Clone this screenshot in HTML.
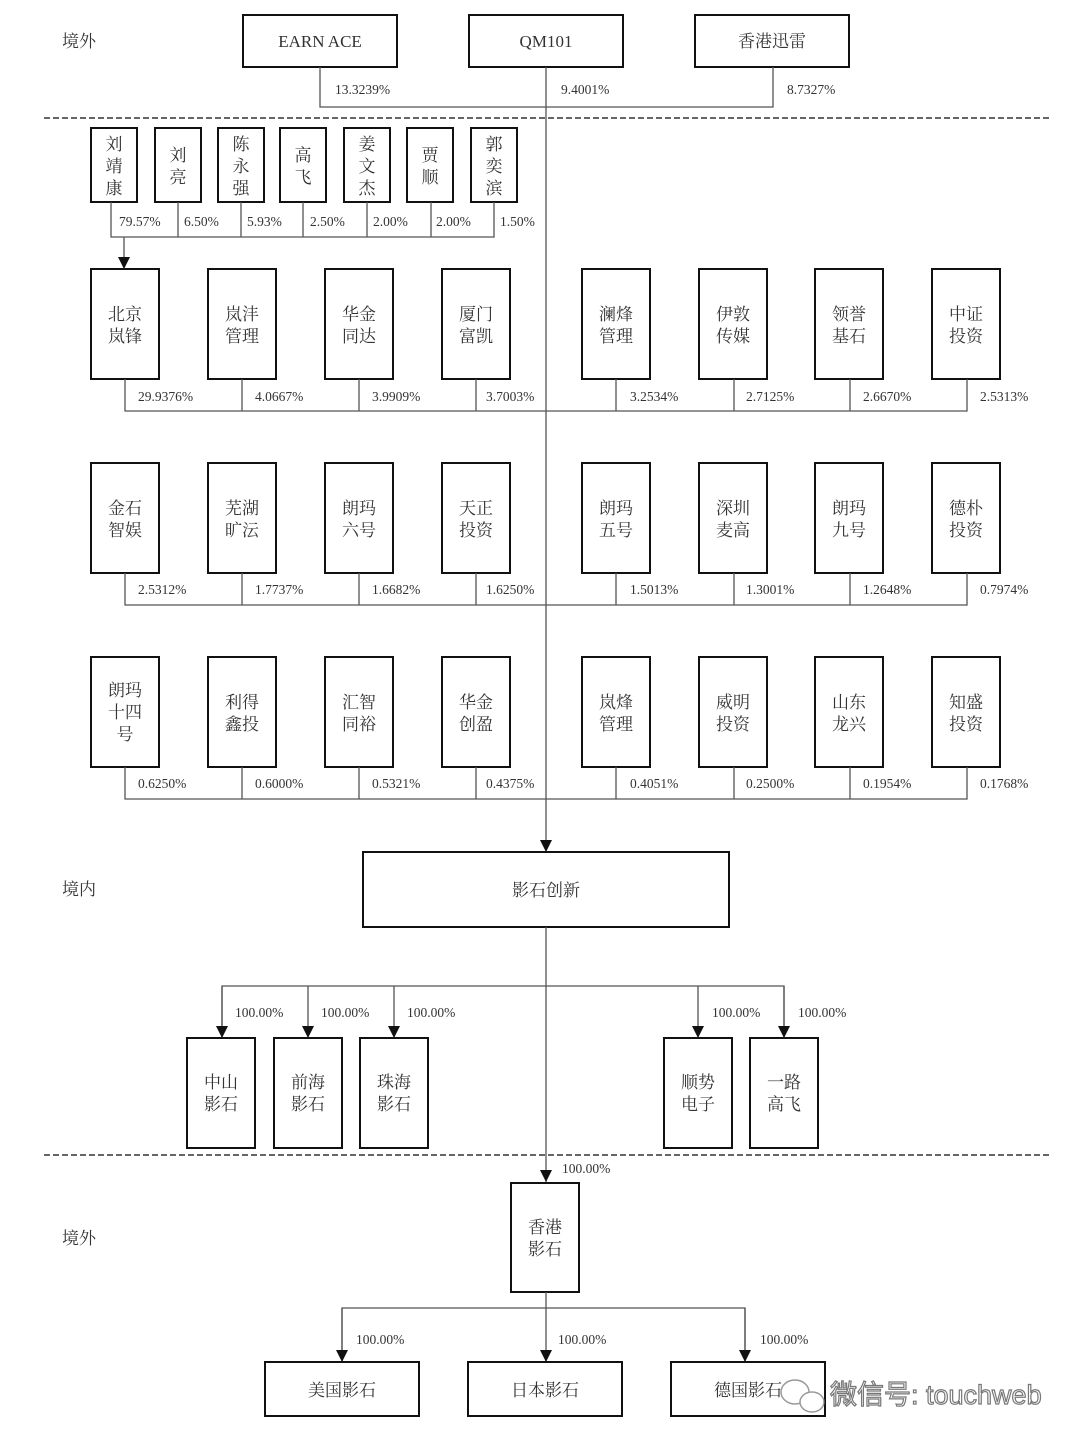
<!DOCTYPE html>
<html><head><meta charset="utf-8"><style>
html,body{margin:0;padding:0;background:#fff;}
svg{display:block;}
text{font-family:"Liberation Serif","Noto Serif CJK SC",serif;fill:#333;}
.b{fill:#fff;stroke:#111;stroke-width:2;}
.l{stroke:#555;stroke-width:1.3;fill:none;}
.t{font-size:17px;text-anchor:middle;}
.p{font-size:13.5px;}
.d{stroke:#333;stroke-width:1.6;stroke-dasharray:6,3;}
</style></head><body>
<svg width="1080" height="1442" viewBox="0 0 1080 1442" xmlns="http://www.w3.org/2000/svg">
<defs><marker id="a" markerWidth="12" markerHeight="12" refX="12" refY="6" orient="auto" markerUnits="userSpaceOnUse"><path d="M0,0 L12,6 L0,12 z" fill="#111"/></marker>
</defs>
<text x="62" y="47" style="font-size:17px">境外</text>
<text x="62" y="895" style="font-size:17px">境内</text>
<text x="62" y="1244" style="font-size:17px">境外</text>

<!-- top -->
<rect class="b" x="243" y="15" width="154" height="52"/><text class="t" x="320" y="47">EARN ACE</text>
<rect class="b" x="469" y="15" width="154" height="52"/><text class="t" x="546" y="47">QM101</text>
<rect class="b" x="695" y="15" width="154" height="52"/><text class="t" x="772" y="47">香港迅雷</text>
<path class="l" d="M320,67 V107 H773 V67"/>
<text class="p" x="335" y="94">13.3239%</text>
<text class="p" x="561" y="94">9.4001%</text>
<text class="p" x="787" y="94">8.7327%</text>
<line class="l" x1="546" y1="67" x2="546" y2="852" marker-end="url(#a)"/>
<line class="d" x1="44" y1="118" x2="1050" y2="118"/>

<!-- persons -->
<g>
<rect class="b" x="91" y="128" width="46" height="74"/><text class="t" x="114" y="150">刘</text><text class="t" x="114" y="172">靖</text><text class="t" x="114" y="194">康</text>
<rect class="b" x="155" y="128" width="46" height="74"/><text class="t" x="178" y="161">刘</text><text class="t" x="178" y="183">亮</text>
<rect class="b" x="218" y="128" width="46" height="74"/><text class="t" x="241" y="150">陈</text><text class="t" x="241" y="172">永</text><text class="t" x="241" y="194">强</text>
<rect class="b" x="280" y="128" width="46" height="74"/><text class="t" x="303" y="161">高</text><text class="t" x="303" y="183">飞</text>
<rect class="b" x="344" y="128" width="46" height="74"/><text class="t" x="367" y="150">姜</text><text class="t" x="367" y="172">文</text><text class="t" x="367" y="194">杰</text>
<rect class="b" x="407" y="128" width="46" height="74"/><text class="t" x="430" y="161">贾</text><text class="t" x="430" y="183">顺</text>
<rect class="b" x="471" y="128" width="46" height="74"/><text class="t" x="494" y="150">郭</text><text class="t" x="494" y="172">奕</text><text class="t" x="494" y="194">滨</text>
</g>
<path class="l" d="M111,202 V237 H494 V202 M178,202 V237 M241,202 V237 M303,202 V237 M367,202 V237 M431,202 V237"/>
<line class="l" x1="124" y1="237" x2="124" y2="269" marker-end="url(#a)"/>
<text class="p" x="119" y="226">79.57%</text><text class="p" x="184" y="226">6.50%</text><text class="p" x="247" y="226">5.93%</text><text class="p" x="310" y="226">2.50%</text><text class="p" x="373" y="226">2.00%</text><text class="p" x="436" y="226">2.00%</text><text class="p" x="500" y="226">1.50%</text>

<!-- row1 -->
<g>
<rect class="b" x="91" y="269" width="68" height="110"/><text class="t" x="125" y="320">北京</text><text class="t" x="125" y="342">岚锋</text>
<rect class="b" x="208" y="269" width="68" height="110"/><text class="t" x="242" y="320">岚沣</text><text class="t" x="242" y="342">管理</text>
<rect class="b" x="325" y="269" width="68" height="110"/><text class="t" x="359" y="320">华金</text><text class="t" x="359" y="342">同达</text>
<rect class="b" x="442" y="269" width="68" height="110"/><text class="t" x="476" y="320">厦门</text><text class="t" x="476" y="342">富凯</text>
<rect class="b" x="582" y="269" width="68" height="110"/><text class="t" x="616" y="320">澜烽</text><text class="t" x="616" y="342">管理</text>
<rect class="b" x="699" y="269" width="68" height="110"/><text class="t" x="733" y="320">伊敦</text><text class="t" x="733" y="342">传媒</text>
<rect class="b" x="815" y="269" width="68" height="110"/><text class="t" x="849" y="320">领誉</text><text class="t" x="849" y="342">基石</text>
<rect class="b" x="932" y="269" width="68" height="110"/><text class="t" x="966" y="320">中证</text><text class="t" x="966" y="342">投资</text>
<path class="l" d="M125,379 V411 H967 V379 M242,379 V411 M359,379 V411 M476,379 V411 M616,379 V411 M734,379 V411 M850,379 V411"/>
<text class="p" x="138" y="401">29.9376%</text><text class="p" x="255" y="401">4.0667%</text><text class="p" x="372" y="401">3.9909%</text><text class="p" x="486" y="401">3.7003%</text><text class="p" x="630" y="401">3.2534%</text><text class="p" x="746" y="401">2.7125%</text><text class="p" x="863" y="401">2.6670%</text><text class="p" x="980" y="401">2.5313%</text>
</g>
<!-- row2 -->
<g>
<rect class="b" x="91" y="463" width="68" height="110"/><text class="t" x="125" y="514">金石</text><text class="t" x="125" y="536">智娱</text>
<rect class="b" x="208" y="463" width="68" height="110"/><text class="t" x="242" y="514">芜湖</text><text class="t" x="242" y="536">旷沄</text>
<rect class="b" x="325" y="463" width="68" height="110"/><text class="t" x="359" y="514">朗玛</text><text class="t" x="359" y="536">六号</text>
<rect class="b" x="442" y="463" width="68" height="110"/><text class="t" x="476" y="514">天正</text><text class="t" x="476" y="536">投资</text>
<rect class="b" x="582" y="463" width="68" height="110"/><text class="t" x="616" y="514">朗玛</text><text class="t" x="616" y="536">五号</text>
<rect class="b" x="699" y="463" width="68" height="110"/><text class="t" x="733" y="514">深圳</text><text class="t" x="733" y="536">麦高</text>
<rect class="b" x="815" y="463" width="68" height="110"/><text class="t" x="849" y="514">朗玛</text><text class="t" x="849" y="536">九号</text>
<rect class="b" x="932" y="463" width="68" height="110"/><text class="t" x="966" y="514">德朴</text><text class="t" x="966" y="536">投资</text>
<path class="l" d="M125,573 V605 H967 V573 M242,573 V605 M359,573 V605 M476,573 V605 M616,573 V605 M734,573 V605 M850,573 V605"/>
<text class="p" x="138" y="594">2.5312%</text><text class="p" x="255" y="594">1.7737%</text><text class="p" x="372" y="594">1.6682%</text><text class="p" x="486" y="594">1.6250%</text><text class="p" x="630" y="594">1.5013%</text><text class="p" x="746" y="594">1.3001%</text><text class="p" x="863" y="594">1.2648%</text><text class="p" x="980" y="594">0.7974%</text>
</g>
<!-- row3 -->
<g>
<rect class="b" x="91" y="657" width="68" height="110"/><text class="t" x="125" y="696">朗玛</text><text class="t" x="125" y="718">十四</text><text class="t" x="125" y="740">号</text>
<rect class="b" x="208" y="657" width="68" height="110"/><text class="t" x="242" y="708">利得</text><text class="t" x="242" y="730">鑫投</text>
<rect class="b" x="325" y="657" width="68" height="110"/><text class="t" x="359" y="708">汇智</text><text class="t" x="359" y="730">同裕</text>
<rect class="b" x="442" y="657" width="68" height="110"/><text class="t" x="476" y="708">华金</text><text class="t" x="476" y="730">创盈</text>
<rect class="b" x="582" y="657" width="68" height="110"/><text class="t" x="616" y="708">岚烽</text><text class="t" x="616" y="730">管理</text>
<rect class="b" x="699" y="657" width="68" height="110"/><text class="t" x="733" y="708">威明</text><text class="t" x="733" y="730">投资</text>
<rect class="b" x="815" y="657" width="68" height="110"/><text class="t" x="849" y="708">山东</text><text class="t" x="849" y="730">龙兴</text>
<rect class="b" x="932" y="657" width="68" height="110"/><text class="t" x="966" y="708">知盛</text><text class="t" x="966" y="730">投资</text>
<path class="l" d="M125,767 V799 H967 V767 M242,767 V799 M359,767 V799 M476,767 V799 M616,767 V799 M734,767 V799 M850,767 V799"/>
<text class="p" x="138" y="788">0.6250%</text><text class="p" x="255" y="788">0.6000%</text><text class="p" x="372" y="788">0.5321%</text><text class="p" x="486" y="788">0.4375%</text><text class="p" x="630" y="788">0.4051%</text><text class="p" x="746" y="788">0.2500%</text><text class="p" x="863" y="788">0.1954%</text><text class="p" x="980" y="788">0.1768%</text>
</g>

<!-- 影石创新 -->
<rect class="b" x="363" y="852" width="366" height="75"/><text class="t" x="546" y="896">影石创新</text>
<line class="l" x1="546" y1="927" x2="546" y2="1182" marker-end="url(#a)"/>
<path class="l" d="M222,1038 V986 H784 V1038"/>
<line class="l" x1="222" y1="986" x2="222" y2="1038" marker-end="url(#a)"/>
<line class="l" x1="308" y1="986" x2="308" y2="1038" marker-end="url(#a)"/>
<line class="l" x1="394" y1="986" x2="394" y2="1038" marker-end="url(#a)"/>
<line class="l" x1="698" y1="986" x2="698" y2="1038" marker-end="url(#a)"/>
<line class="l" x1="784" y1="986" x2="784" y2="1038" marker-end="url(#a)"/>
<text class="p" x="235" y="1017">100.00%</text><text class="p" x="321" y="1017">100.00%</text><text class="p" x="407" y="1017">100.00%</text><text class="p" x="712" y="1017">100.00%</text><text class="p" x="798" y="1017">100.00%</text>
<rect class="b" x="187" y="1038" width="68" height="110"/><text class="t" x="221" y="1088">中山</text><text class="t" x="221" y="1110">影石</text>
<rect class="b" x="274" y="1038" width="68" height="110"/><text class="t" x="308" y="1088">前海</text><text class="t" x="308" y="1110">影石</text>
<rect class="b" x="360" y="1038" width="68" height="110"/><text class="t" x="394" y="1088">珠海</text><text class="t" x="394" y="1110">影石</text>
<rect class="b" x="664" y="1038" width="68" height="110"/><text class="t" x="698" y="1088">顺势</text><text class="t" x="698" y="1110">电子</text>
<rect class="b" x="750" y="1038" width="68" height="110"/><text class="t" x="784" y="1088">一路</text><text class="t" x="784" y="1110">高飞</text>

<line class="d" x1="44" y1="1155" x2="1050" y2="1155"/>
<text class="p" x="562" y="1173">100.00%</text>
<rect class="b" x="511" y="1183" width="68" height="109"/><text class="t" x="545" y="1233">香港</text><text class="t" x="545" y="1255">影石</text>
<path class="l" d="M342,1362 V1308 H745 V1362"/>
<line class="l" x1="546" y1="1292" x2="546" y2="1362" marker-end="url(#a)"/>
<line class="l" x1="342" y1="1308" x2="342" y2="1362" marker-end="url(#a)"/>
<line class="l" x1="745" y1="1308" x2="745" y2="1362" marker-end="url(#a)"/>
<text class="p" x="356" y="1344">100.00%</text><text class="p" x="558" y="1344">100.00%</text><text class="p" x="760" y="1344">100.00%</text>
<rect class="b" x="265" y="1362" width="154" height="54"/><text class="t" x="342" y="1396">美国影石</text>
<rect class="b" x="468" y="1362" width="154" height="54"/><text class="t" x="545" y="1396">日本影石</text>
<rect class="b" x="671" y="1362" width="154" height="54"/><text class="t" x="748" y="1396">德国影石</text>
<!-- watermark -->
<g fill="#fff" stroke="#888" stroke-width="1.5" opacity="0.85">
<ellipse cx="795" cy="1392" rx="14" ry="12"/><ellipse cx="812" cy="1402" rx="12" ry="10"/>
</g>
<text x="830" y="1404" style="font-family:'Liberation Sans','Noto Sans CJK SC',sans-serif;font-size:27px;fill:#fff;stroke:#777;stroke-width:1.2;">微信号: touchweb</text>
</svg>
</body></html>
